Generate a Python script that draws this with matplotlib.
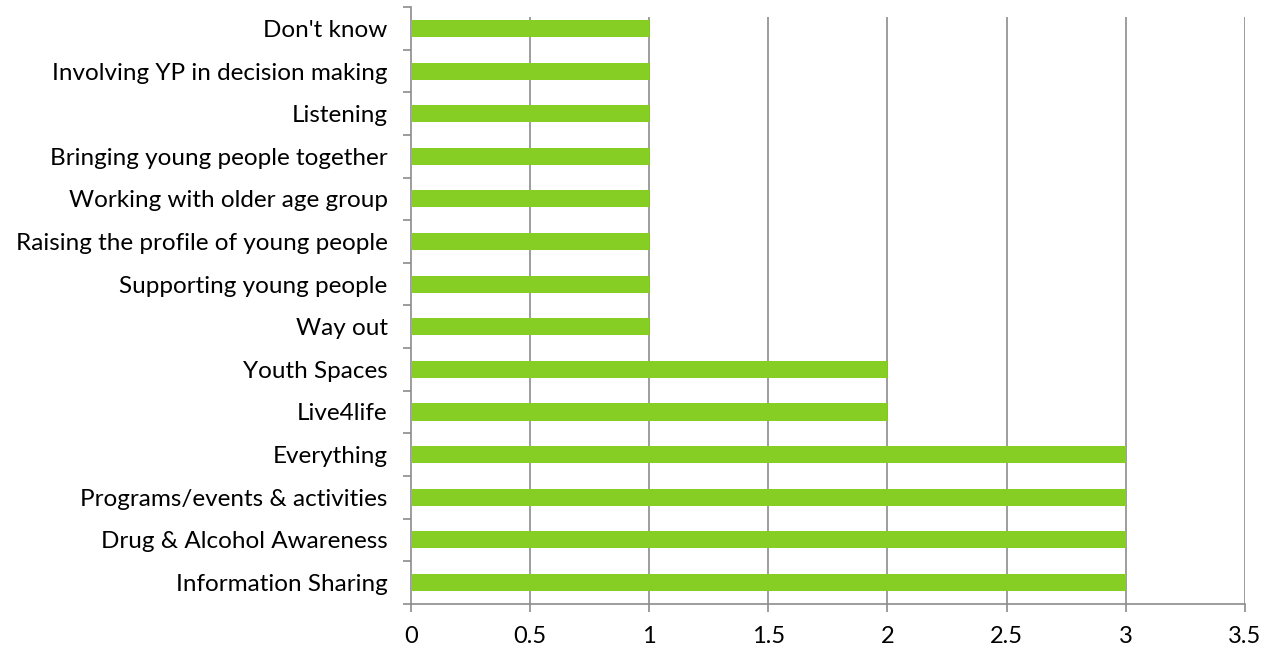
import matplotlib.pyplot as plt
import numpy as np

plt.rcParams['font.family'] = ['Lato', 'DejaVu Sans']

# bottom to top, as drawn on the y axis
activities = ['Information Sharing', 'Drug & Alcohol Awareness', 'Programs/events & activities',
              'Everything', 'Live4life', 'Youth Spaces', 'Way out', 'Supporting young people',
              'Raising the profile of young people', 'Working with older age group',
              'Bringing young people together', 'Listening', 'Involving YP in decision making',
              "Don't know"]
counts = [3, 3, 3, 3, 2, 2, 1, 1, 1, 1, 1, 1, 1, 1]
x_ticks = [0, 0.5, 1, 1.5, 2, 2.5, 3, 3.5]
x_labels = ['0', '0.5', '1', '1.5', '2', '2.5', '3', '3.5']

grey = '#8c8c8c'
fig = plt.figure(figsize=(12.65, 6.52), dpi=100)
ax = fig.add_axes([0.325, 0.074, 0.659, 0.915])

y = np.arange(len(activities))
ax.barh(y, counts, height=0.4, color='#86ce24', zorder=3)

ax.set_xlim(0, 3.5)
ax.set_ylim(-0.5, len(activities) - 0.5)
ax.set_xticks(x_ticks)
ax.set_xticklabels(x_labels, fontsize=17)
ax.set_yticks(y)
ax.set_yticklabels(activities, fontsize=17.5)
ax.set_yticks(np.arange(-0.5, len(activities)), minor=True)

ax.tick_params(axis='y', which='major', length=0, pad=17)
ax.tick_params(axis='y', which='minor', length=6, color=grey, width=1.2)
ax.tick_params(axis='x', length=6, color=grey, width=1.2, pad=10)

# vertical gridlines stop a little short of the top of the axes
ax.vlines(x_ticks[1:], 0, 0.983, transform=ax.get_xaxis_transform(),
          color=grey, linewidth=1.2, zorder=0)
for side in ['top', 'right']:
    ax.spines[side].set_visible(False)
for side in ['left', 'bottom']:
    ax.spines[side].set_color(grey)
    ax.spines[side].set_linewidth(1.2)

plt.savefig('out.png')
